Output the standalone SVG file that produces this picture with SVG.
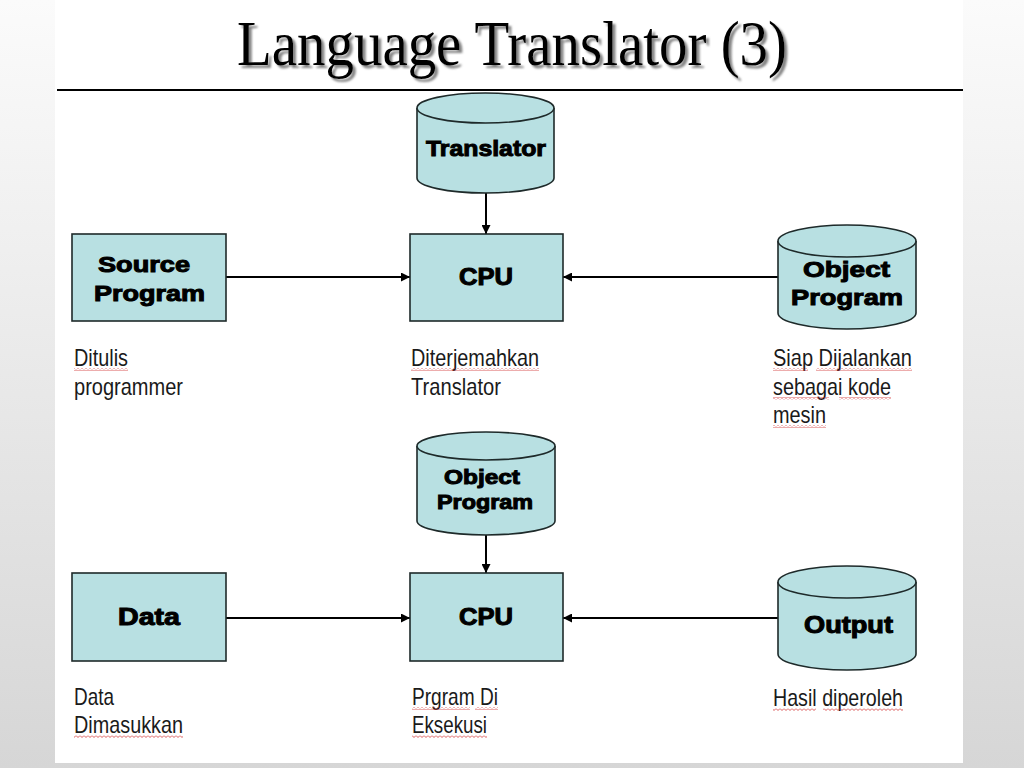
<svg xmlns="http://www.w3.org/2000/svg" width="1024" height="768" viewBox="0 0 1024 768">
<style>
.box{fill:#b8e0e2;stroke:#1e2a2a;stroke-width:1.6}
.nt{font-family:"Liberation Sans",Arial,sans-serif;font-weight:bold;fill:#000;stroke:#000;stroke-width:1;text-anchor:middle}
.lb{font-family:"Liberation Sans",Arial,sans-serif;font-size:24px;fill:#1a1a1a}
.cn{stroke:#000;stroke-width:2;fill:none;marker-end:url(#ah)}
.sq{fill:url(#zig)}
</style>
<defs>
<linearGradient id="bg" x1="0" y1="0" x2="0" y2="1">
<stop offset="0" stop-color="#fbfbfb"/>
<stop offset="1" stop-color="#d6d6d6"/>
</linearGradient>
<marker id="ah" viewBox="0 0 10 10" refX="10" refY="5" markerWidth="4.5" markerHeight="4.5" orient="auto" markerUnits="strokeWidth">
<path d="M0,0 L10,5 L0,10 Z" fill="#000"/>
</marker>
<pattern id="zig" width="4" height="3" patternUnits="userSpaceOnUse">
<path d="M0,0.5 L2,2.5 L4,0.5" stroke="#d03030" stroke-width="0.8" fill="none"/>
</pattern>
<filter id="sh" x="-5%" y="-20%" width="110%" height="140%">
<feDropShadow dx="3" dy="3" stdDeviation="1.2" flood-color="#666" flood-opacity="0.8"/>
</filter>
</defs>
<rect x="0" y="0" width="1024" height="768" fill="url(#bg)"/>
<rect x="55" y="0" width="908" height="763" fill="#ffffff"/>
<g id="title">
<text x="237" y="65" font-family="'Liberation Serif','Times New Roman',serif" font-size="64" fill="#000" textLength="550" lengthAdjust="spacingAndGlyphs" filter="url(#sh)">Language Translator (3)</text>
<line x1="57" y1="90" x2="963" y2="90" stroke="#000" stroke-width="2"/>
</g>
<g id="connectors">
<line class="cn" x1="486" y1="193" x2="486" y2="234"/>
<line class="cn" x1="226" y1="277" x2="410" y2="277"/>
<line class="cn" x1="778" y1="277" x2="563" y2="277"/>
<line class="cn" x1="486" y1="535" x2="486" y2="573"/>
<line class="cn" x1="226" y1="618" x2="410" y2="618"/>
<line class="cn" x1="778" y1="618" x2="563" y2="618"/>
</g>
<g id="translator">
<path class="box" d="M417,108 V178 A68.5,15 0 0 0 554,178 V108"/>
<ellipse class="box" cx="485.5" cy="108" rx="68.5" ry="15"/>
<text class="nt" x="486" y="156" font-size="22" textLength="120" lengthAdjust="spacingAndGlyphs">Translator</text>
</g>
<g id="source-program">
<rect class="box" x="72" y="234" width="154" height="87"/>
<text class="nt" x="144" y="272" font-size="22" textLength="92" lengthAdjust="spacingAndGlyphs">Source</text>
<text class="nt" x="149.5" y="301" font-size="22" textLength="111" lengthAdjust="spacingAndGlyphs">Program</text>
</g>
<g id="cpu-1">
<rect class="box" x="410" y="234" width="153" height="87"/>
<text class="nt" x="486" y="285" font-size="23" textLength="54" lengthAdjust="spacingAndGlyphs">CPU</text>
</g>
<g id="object-program-1">
<path class="box" d="M778,241 V313 A69,16 0 0 0 916,313 V241"/>
<ellipse class="box" cx="847" cy="241" rx="69" ry="16"/>
<text class="nt" x="846.5" y="277" font-size="22" textLength="87" lengthAdjust="spacingAndGlyphs">Object</text>
<text class="nt" x="847" y="305" font-size="22" textLength="112" lengthAdjust="spacingAndGlyphs">Program</text>
</g>
<g id="object-program-2">
<path class="box" d="M417,446 V521 A69,14 0 0 0 555,521 V446"/>
<ellipse class="box" cx="486" cy="446" rx="69" ry="14"/>
<text class="nt" x="482" y="484" font-size="20" textLength="76" lengthAdjust="spacingAndGlyphs">Object</text>
<text class="nt" x="485" y="509" font-size="20" textLength="96" lengthAdjust="spacingAndGlyphs">Program</text>
</g>
<g id="data">
<rect class="box" x="72" y="573" width="154" height="88"/>
<text class="nt" x="149" y="625" font-size="23" textLength="62" lengthAdjust="spacingAndGlyphs">Data</text>
</g>
<g id="cpu-2">
<rect class="box" x="410" y="573" width="153" height="88"/>
<text class="nt" x="486" y="625" font-size="23" textLength="54" lengthAdjust="spacingAndGlyphs">CPU</text>
</g>
<g id="output">
<path class="box" d="M778,582 V654 A69,16 0 0 0 916,654 V582"/>
<ellipse class="box" cx="847" cy="582" rx="69" ry="16"/>
<text class="nt" x="848.5" y="633" font-size="23" textLength="89" lengthAdjust="spacingAndGlyphs">Output</text>
</g>
<g id="labels">
<text class="lb" x="74" y="366" textLength="54" lengthAdjust="spacingAndGlyphs">Ditulis</text>
<text class="lb" x="74" y="395" textLength="109" lengthAdjust="spacingAndGlyphs">programmer</text>
<text class="lb" x="411" y="366" textLength="128" lengthAdjust="spacingAndGlyphs">Diterjemahkan</text>
<text class="lb" x="411" y="395" textLength="90" lengthAdjust="spacingAndGlyphs">Translator</text>
<text class="lb" x="773" y="366" textLength="139" lengthAdjust="spacingAndGlyphs">Siap Dijalankan</text>
<text class="lb" x="773" y="395" textLength="118" lengthAdjust="spacingAndGlyphs">sebagai kode</text>
<text class="lb" x="773" y="423" textLength="53" lengthAdjust="spacingAndGlyphs">mesin</text>
<text class="lb" x="74" y="705" textLength="40" lengthAdjust="spacingAndGlyphs">Data</text>
<text class="lb" x="74" y="733" textLength="109" lengthAdjust="spacingAndGlyphs">Dimasukkan</text>
<text class="lb" x="412" y="705" textLength="86" lengthAdjust="spacingAndGlyphs">Prgram Di</text>
<text class="lb" x="412" y="733" textLength="75" lengthAdjust="spacingAndGlyphs">Eksekusi</text>
<text class="lb" x="773" y="706" textLength="130" lengthAdjust="spacingAndGlyphs">Hasil diperoleh</text>
</g>
<g id="spellcheck">
<rect class="sq" x="74" y="368" width="54" height="3"/>
<rect class="sq" x="411" y="368" width="128" height="3"/>
<rect class="sq" x="773" y="368" width="35" height="3"/>
<rect class="sq" x="816" y="368" width="96" height="3"/>
<rect class="sq" x="773" y="397" width="56" height="3"/>
<rect class="sq" x="839" y="397" width="52" height="3"/>
<rect class="sq" x="773" y="425" width="53" height="3"/>
<rect class="sq" x="74" y="735" width="109" height="3"/>
<rect class="sq" x="412" y="707" width="58" height="3"/>
<rect class="sq" x="475" y="707" width="23" height="3"/>
<rect class="sq" x="412" y="735" width="75" height="3"/>
<rect class="sq" x="773" y="708" width="43" height="3"/>
<rect class="sq" x="823" y="708" width="80" height="3"/>
</g>
</svg>
